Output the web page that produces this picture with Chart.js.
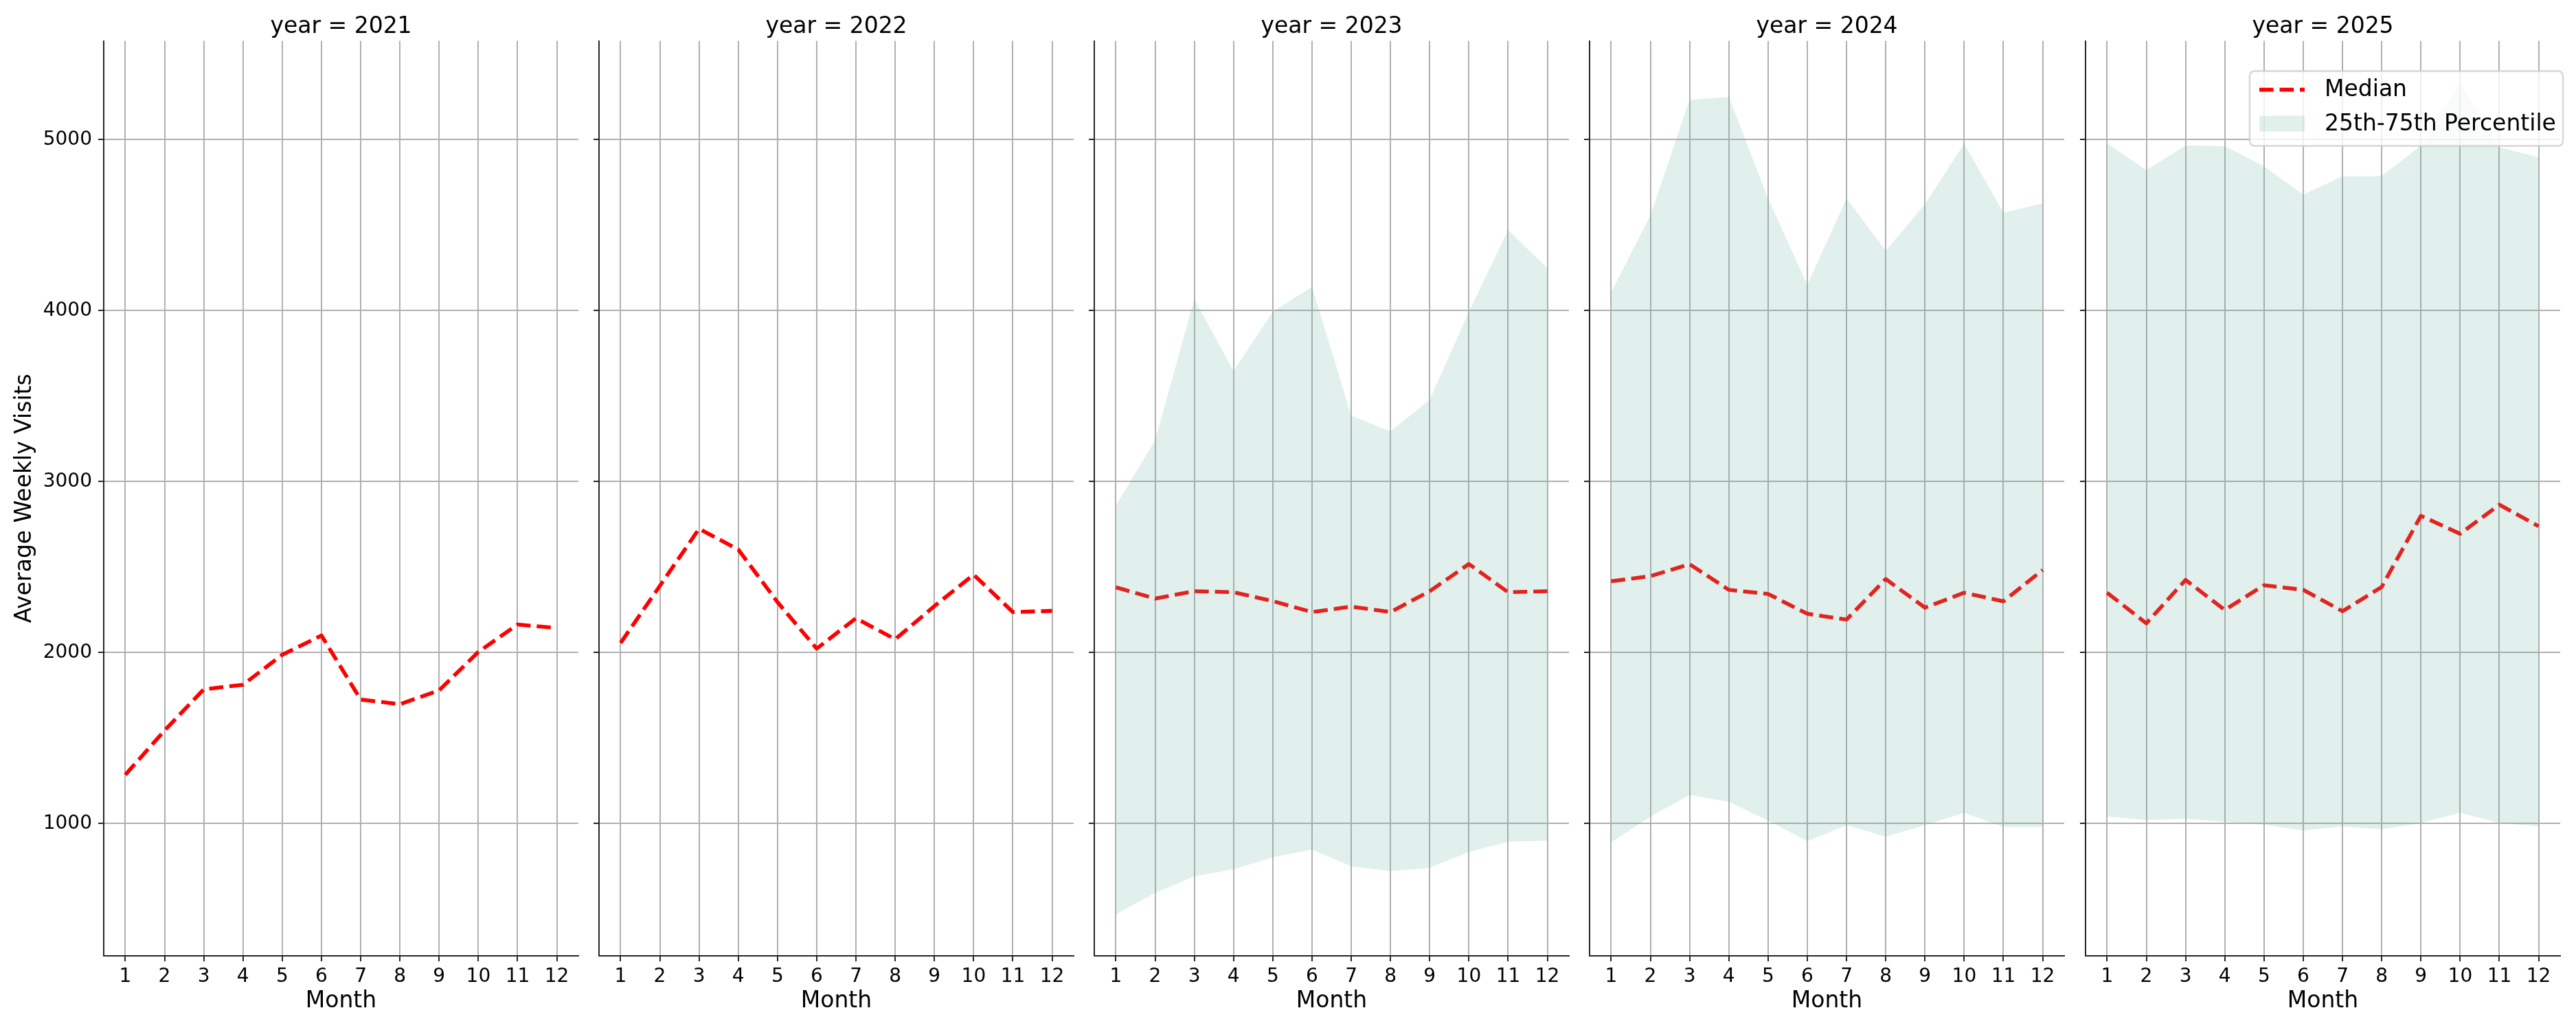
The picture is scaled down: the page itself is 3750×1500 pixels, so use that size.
<!DOCTYPE html>
<html>
<head>
<meta charset="utf-8">
<script src="https://cdn.jsdelivr.net/npm/chart.js@4.4.1/dist/chart.umd.min.js"></script>
<style>
  html, body { margin: 0; padding: 0; background: #fff; }
  body { width: 3750px; height: 1500px; position: relative; overflow: hidden; }
  canvas { position: absolute; top: 0; }
</style>
</head>
<body>
<script>
// ---- data ----
const months = [1, 2, 3, 4, 5, 6, 7, 8, 9, 10, 11, 12];
const years = [2021, 2022, 2023, 2024, 2025];

const median2021 = [1285, 1544, 1785, 1812, 1987, 2100, 1725, 1698, 1779, 2004, 2164, 2144];
const median2022 = [2056, 2390, 2724, 2603, 2295, 2023, 2201, 2078, 2272, 2456, 2237, 2244];

const median2023 = [2382, 2316, 2359, 2353, 2301, 2237, 2269, 2237, 2359, 2518, 2353, 2359];
const p25_2023 = [469, 594, 692, 732, 802, 848, 750, 721, 741, 834, 894, 900];
const p75_2023 = [2860, 3242, 4067, 3647, 3994, 4139, 3386, 3294, 3479, 3994, 4472, 4249];

const median2024 = [2417, 2447, 2517, 2367, 2343, 2227, 2193, 2430, 2263, 2350, 2300, 2483];
const p25_2024 = [890, 1040, 1167, 1127, 1017, 897, 990, 923, 990, 1063, 980, 980];
const p75_2024 = [4107, 4557, 5233, 5250, 4657, 4150, 4657, 4350, 4623, 4977, 4573, 4627];

const median2025 = [2350, 2171, 2425, 2249, 2394, 2367, 2242, 2384, 2800, 2695, 2865, 2739];
const p25_2025 = [1041, 1020, 1027, 1010, 993, 959, 983, 966, 1003, 1064, 1003, 983];
const p75_2025 = [4980, 4821, 4966, 4963, 4844, 4679, 4787, 4787, 4966, 5330, 4956, 4898];

const yTicks = [1000, 2000, 3000, 4000, 5000];

const panels = [
  { year: years[0], median: median2021, low: null, high: null },
  { year: years[1], median: median2022, low: null, high: null },
  { year: years[2], median: median2023, low: p25_2023, high: p75_2023 },
  { year: years[3], median: median2024, low: p25_2024, high: p75_2024 },
  { year: years[4], median: median2025, low: p25_2025, high: p75_2025 },
];

// ---- look ----
const FONT = '"DejaVu Sans", sans-serif';
const FILL = 'rgba(105, 179, 162, 0.2)';
const RED = '#ff0000';
const DASH = [20.6, 8.9];
const SPINE = '#262626';
const GRID = '#b0b0b0';

const PANEL_LEFT = [151, 872, 1593, 2314, 3036];
const PANEL_W = 691;
const RIGHT_PAD = 14;

const xy = arr => months.map((m, i) => ({ x: m, y: arr[i] }));

// matplotlib-like legend drawn inside the last panel
const mplLegend = {
  id: 'mplLegend',
  afterDatasetsDraw(chart, args, opts) {
    if (!opts.show) return;
    const ctx = chart.ctx;
    const ca = chart.chartArea;
    const bx = ca.right - 452, by = ca.top + 44, bw = 456, bh = 109;
    ctx.save();
    ctx.beginPath();
    ctx.roundRect(bx, by, bw, bh, 7);
    ctx.fillStyle = 'rgba(255,255,255,0.8)';
    ctx.fill();
    ctx.lineWidth = 2.5;
    ctx.strokeStyle = 'rgba(204,204,204,0.8)';
    ctx.stroke();

    const hx = bx + 14;
    // median handle
    ctx.beginPath();
    ctx.setLineDash(DASH);
    ctx.lineWidth = 5.6;
    ctx.strokeStyle = RED;
    ctx.moveTo(hx, by + 27);
    ctx.lineTo(hx + 66, by + 27);
    ctx.stroke();
    ctx.setLineDash([]);
    // band handle
    ctx.fillStyle = FILL;
    ctx.fillRect(hx, by + 65, 66, 23);

    ctx.fillStyle = '#000';
    ctx.font = '33px ' + FONT;
    ctx.textBaseline = 'middle';
    ctx.textAlign = 'left';
    ctx.fillText('Median', hx + 95, by + 28);
    ctx.fillText('25th-75th Percentile', hx + 95, by + 78);
    ctx.restore();
  }
};

panels.forEach((p, idx) => {
  const first = idx === 0;
  const last = idx === panels.length - 1;
  const yw = first ? 151 : 20;
  const left = PANEL_LEFT[idx] - yw;
  const width = yw + PANEL_W + RIGHT_PAD;

  const canvas = document.createElement('canvas');
  canvas.width = width;
  canvas.height = 1500;
  canvas.style.left = left + 'px';
  canvas.style.width = width + 'px';
  canvas.style.height = '1500px';
  document.body.appendChild(canvas);

  const datasets = [];
  if (p.low) {
    datasets.push({
      label: '25th Percentile', data: xy(p.low),
      borderWidth: 0, pointRadius: 0, fill: false, backgroundColor: FILL
    });
    datasets.push({
      label: '25th-75th Percentile', data: xy(p.high),
      borderWidth: 0, pointRadius: 0, fill: '-1', backgroundColor: FILL
    });
  }
  datasets.push({
    label: 'Median', data: xy(p.median),
    borderColor: RED, borderWidth: 5.6, borderDash: DASH,
    borderJoinStyle: 'round', pointRadius: 0, tension: 0, fill: false
  });

  new Chart(canvas, {
    type: 'line',
    data: { datasets: datasets },
    options: {
      responsive: false,
      animation: false,
      devicePixelRatio: 1,
      events: [],
      layout: { padding: { left: 0, right: RIGHT_PAD, top: 0, bottom: 0 } },
      plugins: {
        legend: { display: false },
        tooltip: { enabled: false },
        title: {
          display: true,
          text: 'year = ' + p.year,
          fullSize: false,
          color: '#000',
          font: { family: FONT, size: 33, weight: 'normal' },
          padding: { top: 20, bottom: 0 }
        },
        mplLegend: { show: last }
      },
      scales: {
        x: {
          type: 'linear', min: 0.45, max: 12.55,
          afterBuildTicks: s => { s.ticks = months.map(m => ({ value: m })); },
          ticks: {
            autoSkip: false, maxRotation: 0, color: '#000', padding: 6,
            font: { family: FONT, size: 28 },
            callback: v => String(v)
          },
          grid: { color: GRID, lineWidth: 2, tickColor: SPINE, tickLength: 8, tickWidth: 2 },
          border: { display: true, color: SPINE, width: 2 },
          title: {
            display: true, text: 'Month', color: '#000',
            font: { family: FONT, size: 33 }, padding: { top: 0, bottom: 22 }
          },
          afterFit: s => { s.height = 108; }
        },
        y: {
          min: 226, max: 5578,
          afterBuildTicks: s => { s.ticks = yTicks.map(v => ({ value: v })); },
          ticks: {
            display: first, color: '#000', padding: 9,
            font: { family: FONT, size: 28 },
            callback: v => String(v)
          },
          grid: { color: GRID, lineWidth: 2, tickColor: SPINE, tickLength: 8, tickWidth: 2 },
          border: { display: true, color: SPINE, width: 2 },
          title: {
            display: first, text: 'Average Weekly Visits', color: '#000',
            font: { family: FONT, size: 33 }, padding: { top: 17, bottom: 0 }
          },
          afterFit: s => { s.width = yw; }
        }
      }
    },
    plugins: [mplLegend]
  });
});
</script>
</body>
</html>
